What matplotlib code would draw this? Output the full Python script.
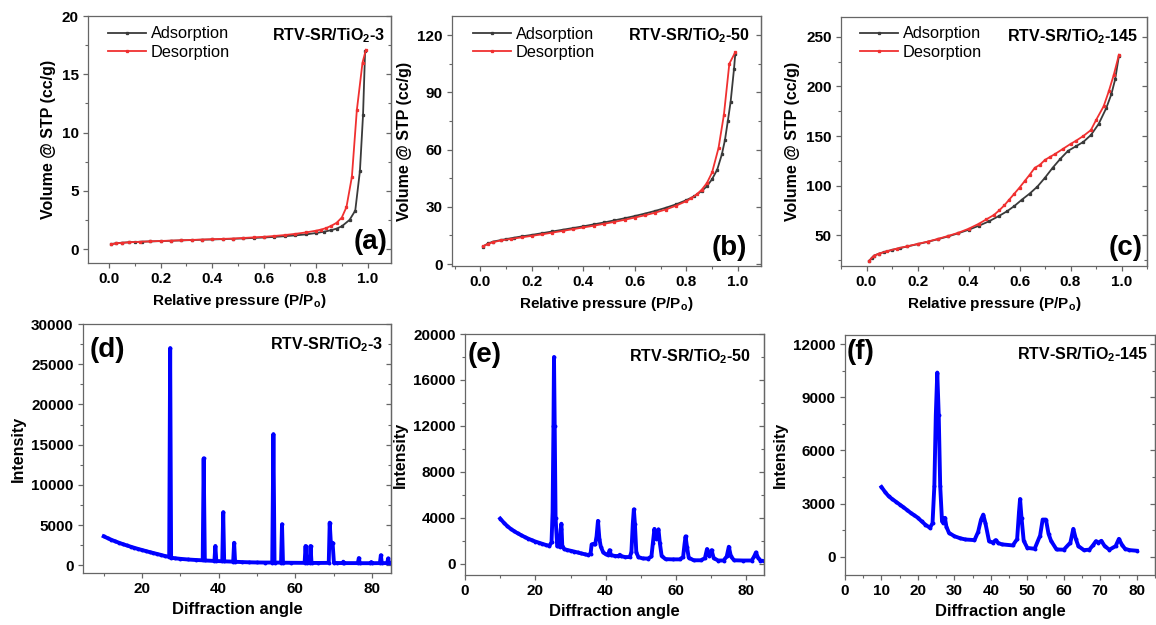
import matplotlib
matplotlib.use("Agg")
import matplotlib.pyplot as plt
from matplotlib.ticker import MultipleLocator

plt.rcParams['font.family'] = ['Liberation Sans', 'DejaVu Sans']
plt.rcParams['mathtext.fontset'] = 'custom'
plt.rcParams['mathtext.rm'] = 'Liberation Sans:bold'
plt.rcParams['mathtext.bf'] = 'Liberation Sans:bold'
plt.rcParams['mathtext.default'] = 'bf'

# ---- BET isotherms (P/Po, volume cc/g) ----
ads3_p = [0.01, 0.03, 0.05, 0.08, 0.1, 0.13, 0.16, 0.2, 0.24, 0.28, 0.32, 0.36, 0.4, 0.44, 0.48,
          0.52, 0.56, 0.6, 0.64, 0.68, 0.72, 0.76, 0.8, 0.83, 0.86, 0.88, 0.9, 0.93, 0.952, 0.97, 0.982, 0.99]
ads3_v = [0.42, 0.5, 0.54, 0.58, 0.6, 0.63, 0.65, 0.68, 0.71, 0.74, 0.77, 0.8, 0.82, 0.85, 0.88,
          0.91, 0.95, 0.99, 1.04, 1.1, 1.17, 1.25, 1.37, 1.48, 1.62, 1.75, 1.95, 2.5, 3.3, 6.7, 11.5, 17.0]
des3_p = [0.993, 0.98, 0.958, 0.939, 0.918, 0.9, 0.88, 0.86, 0.84, 0.82, 0.8, 0.76, 0.72, 0.68, 0.64, 0.6,
          0.56, 0.52, 0.48, 0.44, 0.4, 0.36, 0.32, 0.28, 0.24, 0.2, 0.16, 0.12, 0.08, 0.05, 0.03, 0.01]
des3_v = [17.1, 16.0, 11.9, 6.2, 3.6, 2.7, 2.25, 2.0, 1.8, 1.67, 1.57, 1.42, 1.3, 1.2, 1.12, 1.05,
          1.0, 0.95, 0.9, 0.87, 0.84, 0.81, 0.78, 0.75, 0.72, 0.69, 0.66, 0.62, 0.58, 0.53, 0.49, 0.42]

ads50_p = [0.01, 0.03, 0.05, 0.08, 0.1, 0.13, 0.16, 0.2, 0.24, 0.28, 0.32, 0.36, 0.4, 0.44, 0.48, 0.52, 0.56,
           0.6, 0.64, 0.68, 0.72, 0.76, 0.8, 0.83, 0.86, 0.88, 0.9, 0.92, 0.938, 0.95, 0.961, 0.972, 0.985, 0.99]
ads50_v = [9.2, 10.8, 11.8, 12.6, 13.1, 13.8, 14.5, 15.3, 16.2, 17.1, 18.0, 18.9, 19.8, 20.8, 21.8, 22.9, 24.0,
           25.2, 26.5, 27.9, 29.5, 31.3, 33.5, 35.5, 38.3, 40.8, 44.5, 49.5, 57.5, 65.0, 74.8, 85.0, 102.0, 110.0]
des50_p = [0.99, 0.967, 0.946, 0.925, 0.9, 0.88, 0.86, 0.84, 0.82, 0.8, 0.76, 0.72, 0.68, 0.64, 0.6, 0.56,
           0.52, 0.48, 0.44, 0.4, 0.36, 0.32, 0.28, 0.24, 0.2, 0.16, 0.12, 0.08, 0.05, 0.03, 0.01]
des50_v = [111.0, 105.0, 78.3, 60.8, 48.0, 42.5, 39.0, 36.5, 34.5, 33.0, 30.6, 28.6, 27.0, 25.6, 24.4, 23.2,
           22.1, 21.1, 20.1, 19.2, 18.3, 17.4, 16.5, 15.6, 14.8, 14.0, 13.2, 12.4, 11.5, 10.6, 9.3]

ads145_p = [0.01, 0.02, 0.03, 0.05, 0.07, 0.1, 0.13, 0.16, 0.2, 0.24, 0.28, 0.32, 0.36, 0.4, 0.44, 0.48, 0.52,
            0.55, 0.58, 0.61, 0.64, 0.67, 0.7, 0.73, 0.76, 0.79, 0.82, 0.85, 0.88, 0.91, 0.94, 0.96, 0.975, 0.99]
ads145_v = [24, 27, 29.5, 31.5, 33.2, 35.2, 37, 38.7, 41, 43.4, 46, 48.8, 52, 55.5, 59.5, 64, 69.5,
            74, 79.5, 86, 92, 99, 108, 118, 127, 135, 139.5, 144, 151, 162, 178, 192, 207, 231]
des145_p = [0.99, 0.97, 0.95, 0.93, 0.9, 0.88, 0.85, 0.82, 0.8, 0.77, 0.74, 0.72, 0.7, 0.68, 0.66, 0.64, 0.62,
            0.6, 0.58, 0.56, 0.54, 0.52, 0.5, 0.47, 0.44, 0.4, 0.36, 0.32, 0.28, 0.24, 0.2, 0.16, 0.12,
            0.08, 0.05, 0.03, 0.01]
des145_v = [232, 212, 195, 180, 166, 156, 150, 145, 142, 137, 132, 129, 126, 121, 118, 111, 104.5,
            98, 92, 86, 80, 75, 70.5, 66, 61.5, 56.5, 52.5, 49.3, 46.3, 43.6, 41.2, 38.9, 36.6,
            33.8, 31.6, 29.5, 24.2]

# ---- XRD patterns (2theta, intensity) ----
xrd3 = [(10, 3600), (11, 3380), (12, 3170), (13, 2980), (14, 2800), (15, 2630), (16, 2470), (17, 2320),
        (18, 2170), (19, 2030), (20, 1900), (21, 1770), (22, 1640), (23, 1520), (24, 1400), (25, 1280),
        (26, 1150), (27.1, 1050), (27.35, 27000), (27.6, 950), (28.5, 880), (30, 800), (32, 720),
        (34, 660), (35.85, 620), (36.1, 13300), (36.4, 600), (38.9, 540), (39.15, 2400), (39.4, 530),
        (40.95, 500), (41.2, 6600), (41.45, 490), (43.8, 450), (44.05, 2800), (44.3, 440), (46, 400),
        (48, 370), (50, 350), (52, 340), (54.0, 340), (54.3, 16300), (54.6, 340), (56.3, 330),
        (56.55, 5100), (56.8, 320), (59, 310), (62.45, 300), (62.7, 2400), (62.95, 300), (63.75, 300),
        (64.0, 2400), (64.25, 290), (66, 290), (68.75, 300), (69.0, 5300), (69.35, 2300), (69.75, 2800),
        (70.1, 300), (71, 280), (72.35, 280), (72.55, 450), (72.8, 270), (76.35, 270), (76.6, 900),
        (76.85, 260), (79.6, 260), (79.85, 400), (80.1, 260), (82.1, 270), (82.35, 1250), (82.6, 270),
        (84.0, 270), (84.25, 850), (84.5, 280), (85, 260)]

xrd50 = [(10, 3950), (11, 3600), (12, 3300), (13, 3050), (14, 2850), (15, 2660), (16, 2500), (17, 2340),
         (18, 2200), (19, 2070), (20, 1950), (21, 1850), (22, 1750), (23, 1650), (24, 1580), (24.6, 1900),
         (24.9, 4500), (25.15, 12000), (25.3, 18000), (25.5, 12000), (25.75, 4000), (26.2, 1550),
         (26.9, 1500), (27.2, 3000), (27.4, 3500), (27.65, 1600), (28.2, 1300), (29, 1220), (30, 1150),
         (31, 1080), (32, 1000), (33, 920), (34, 850), (35, 780), (35.7, 900), (36.0, 1700), (36.6, 1750),
         (37.0, 1700), (37.4, 2400), (37.8, 3750), (38.2, 2200), (38.6, 1500), (39.3, 1000), (40, 850),
         (40.7, 780), (41.1, 1200), (41.5, 780), (42.5, 700), (43.6, 680), (44, 800), (44.4, 680),
         (45.5, 600), (46.8, 600), (47.3, 1000), (47.7, 3500), (48.0, 4750), (48.3, 3500), (48.7, 1000),
         (49.3, 600), (50.5, 480), (52, 470), (53, 650), (53.4, 1800), (53.85, 3050), (54.3, 2200),
         (54.6, 2500), (55.0, 3000), (55.4, 1800), (55.9, 700), (57, 420), (59, 400), (61, 400),
         (62.0, 600), (62.4, 1700), (62.7, 2400), (63.1, 1500), (63.6, 550), (65, 320), (67, 320),
         (68.2, 500), (68.8, 1300), (69.4, 700), (70.1, 1200), (70.7, 500), (72, 300), (73.5, 300),
         (74.4, 650), (75.0, 1500), (75.6, 650), (76.5, 320), (79, 300), (81.5, 300), (82.2, 650),
         (82.7, 1000), (83.3, 550), (84, 300), (85, 250)]

xrd145 = [(10, 3940), (11, 3650), (12, 3410), (13, 3250), (14, 3100), (15, 2950), (16, 2800), (17, 2640),
          (18, 2480), (19, 2340), (20, 2200), (21, 2000), (22, 1820), (23.3, 1630), (24.0, 1900),
          (24.5, 4000), (24.9, 8000), (25.3, 10400), (25.7, 8000), (26.1, 4000), (26.6, 2000),
          (27.0, 1900), (27.4, 2200), (27.8, 1700), (28.5, 1350), (30, 1160), (31.5, 1050), (33, 975),
          (35.5, 940), (36.5, 1400), (37.3, 2100), (37.9, 2380), (38.5, 1900), (39.5, 880), (40.5, 800),
          (41.3, 940), (42, 780), (43, 700), (46, 640), (47.2, 1000), (47.7, 2500), (48.0, 3260),
          (48.4, 2200), (49.0, 900), (50, 500), (52, 450), (53.5, 1200), (54.2, 2100), (55.1, 2100),
          (55.8, 1300), (56.5, 900), (58, 410), (60, 400), (61.8, 800), (62.6, 1575), (63.3, 1000),
          (64, 600), (65.5, 375), (67, 400), (68.0, 650), (68.8, 880), (69.5, 800), (70.3, 900),
          (71.2, 600), (72.5, 400), (74.2, 600), (75.1, 1010), (76.0, 650), (76.8, 450), (78, 375),
          (80, 340)]

GRAY = '#666666'
FIG_W, FIG_H = 1156, 625
TICK_FS = 11


def make_axes(fig, box):
    x0, y0, x1, y1 = box
    ax = fig.add_axes([x0 / FIG_W, 1 - y1 / FIG_H, (x1 - x0) / FIG_W, (y1 - y0) / FIG_H])
    for s in ax.spines.values():
        s.set_color(GRAY)
        s.set_linewidth(0.9)
    ax.tick_params(which='both', direction='out', color=GRAY, labelsize=TICK_FS, top=False, right=False,
                   pad=3)
    ax.tick_params(which='major', length=3.8, width=0.9)
    ax.tick_params(which='minor', length=2.2, width=0.8)
    return ax


def right_ticks(ax, major, minor):
    sec = ax.secondary_yaxis('right')
    sec.yaxis.set_major_locator(MultipleLocator(major))
    sec.yaxis.set_minor_locator(MultipleLocator(minor))
    sec.tick_params(which='both', direction='in', color=GRAY, labelright=False)
    sec.tick_params(which='major', length=3.8, width=0.9)
    sec.tick_params(which='minor', length=2.2, width=0.8)
    sec.spines['right'].set_color(GRAY)
    sec.spines['right'].set_linewidth(0.9)


def bold_ticks(ax):
    for lab in ax.get_xticklabels() + ax.get_yticklabels():
        lab.set_fontweight('bold')


fig = plt.figure(figsize=(11.56, 6.25), dpi=100)

iso = [
    ((88, 16, 391, 263), ads3_p, ads3_v, des3_p, des3_v, (-1.2, 20), 5, 2.5, (-0.08, 1.09),
     'RTV-SR/TiO$_2$-3', '(a)', (0.98, 0.919), (0.99, 0.085), (0.066, 0.958)),
    ((452, 16, 761, 266), ads50_p, ads50_v, des50_p, des50_v, (-1, 130), 30, 15, (-0.11, 1.09),
     'RTV-SR/TiO$_2$-50', '(b)', (0.964, 0.92), (0.954, 0.072), (0.068, 0.958)),
    ((841, 17, 1147, 266), ads145_p, ads145_v, des145_p, des145_v, (19, 270), 50, 25, (-0.1, 1.1),
     'RTV-SR/TiO$_2$-145', '(c)', (0.97, 0.92), (0.986, 0.072), (0.062, 0.962)),
]

for box, ap, av, dp, dv, ylim, ymaj, ymin, xlim, name, letter, npos, lpos, legpos in iso:
    ax = make_axes(fig, box)
    ax.plot(ap, av, color='#3a3a3a', lw=1.3, marker='s', ms=1.4, label='Adsorption')
    ax.plot(dp, dv, color='#f03030', lw=1.3, marker='s', ms=1.4, label='Desorption')
    ax.set_xlim(*xlim)
    ax.set_ylim(*ylim)
    ax.xaxis.set_major_locator(MultipleLocator(0.2))
    ax.xaxis.set_minor_locator(MultipleLocator(0.1))
    ax.yaxis.set_major_locator(MultipleLocator(ymaj))
    ax.yaxis.set_minor_locator(MultipleLocator(ymin))
    ax.xaxis.set_major_formatter(plt.FuncFormatter(lambda v, p: '%.1f' % v))
    right_ticks(ax, ymaj, ymin)
    bold_ticks(ax)
    ax.set_xlabel('Relative pressure (P/P$_o$)', fontsize=11, fontweight='bold')
    ax.set_ylabel('Volume @ STP (cc/g)', fontsize=11.5, fontweight='bold')
    ax.text(npos[0], npos[1], name, transform=ax.transAxes, ha='right', va='center',
            fontsize=11.5, fontweight='bold')
    ax.text(lpos[0], lpos[1], letter, transform=ax.transAxes, ha='right', va='center',
            fontsize=20, fontweight='bold')
    ax.legend(loc='upper left', bbox_to_anchor=legpos, frameon=False, fontsize=11.8,
              borderpad=0, borderaxespad=0, handlelength=2.3, handletextpad=0.3, labelspacing=0.2)

xrd = [
    ((83, 324, 391, 573), xrd3, (-960, 30000), 5000, 2500, (4.6, 85), 20, 10,
     'RTV-SR/TiO$_2$-3', '(d)', (0.974, 0.916), (0.023, 0.896)),
    ((465, 334, 764, 575), xrd50, (-960, 20000), 4000, 2000, (0, 85), 20, 10,
     'RTV-SR/TiO$_2$-50', '(e)', (0.956, 0.906), (0.01, 0.913)),
    ((845, 335, 1155, 575), xrd145, (-1030, 12520), 3000, 1500, (0, 85), 10, 5,
     'RTV-SR/TiO$_2$-145', '(f)', (0.977, 0.917), (0.005, 0.93)),
]

for box, pts, ylim, ymaj, ymin, xlim, xmaj, xmin, name, letter, npos, lpos in xrd:
    ax = make_axes(fig, box)
    ang = [p[0] for p in pts]
    inten = [p[1] for p in pts]
    ax.plot(ang, inten, color='#0000ff', lw=2.8, marker='o', ms=1.8, solid_joinstyle='round')
    ax.set_xlim(*xlim)
    ax.set_ylim(*ylim)
    ax.xaxis.set_major_locator(MultipleLocator(xmaj))
    ax.xaxis.set_minor_locator(MultipleLocator(xmin))
    ax.yaxis.set_major_locator(MultipleLocator(ymaj))
    ax.yaxis.set_minor_locator(MultipleLocator(ymin))
    right_ticks(ax, ymaj, ymin)
    bold_ticks(ax)
    ax.set_xlabel('Diffraction angle', fontsize=12, fontweight='bold')
    ax.set_ylabel('Intensity', fontsize=11.5, fontweight='bold')
    ax.text(npos[0], npos[1], name, transform=ax.transAxes, ha='right', va='center',
            fontsize=11.5, fontweight='bold')
    ax.text(lpos[0], lpos[1], letter, transform=ax.transAxes, ha='left', va='center',
            fontsize=20, fontweight='bold')

fig.savefig('out.png', dpi=100)
